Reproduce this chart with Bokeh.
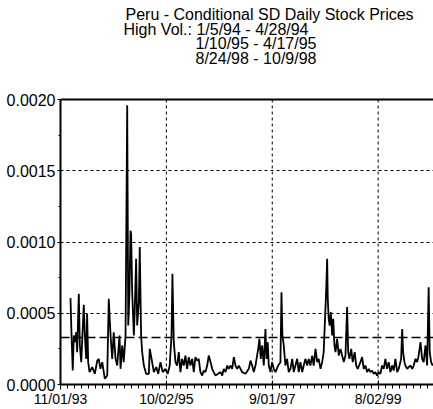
from bokeh.plotting import figure
from bokeh.models import Range1d, FixedTicker, NumeralTickFormatter, Span, Label
from bokeh.embed import file_html
from bokeh.resources import INLINE

# ---- data ----
title_line1 = "Peru - Conditional SD Daily Stock Prices"
title_line2 = "High Vol.: 1/5/94 - 4/28/94"
title_line3 = "1/10/95 - 4/17/95"
title_line4 = "8/24/98 - 10/9/98"

x_tick_days = [0, 700, 1400, 2100]          # days since 11/01/93
x_tick_labels = ["11/01/93", "10/02/95", "9/01/97", "8/02/99"]
y_ticks = [0.0, 0.0005, 0.0010, 0.0015, 0.0020]
y_minor_ticks = [0.00025, 0.00075, 0.00125, 0.00175]
threshold = 0.00033

# days since 11/01/93
day = [66, 73, 81, 88, 95, 104, 110, 121, 128, 137, 143, 154, 161, 170, 176, 183, 192, 210, 227, 243,
       253, 264, 276, 293, 309, 319, 331, 342, 352, 364,
       375, 390, 397, 408, 418, 430, 441, 448, 456, 463, 467, 474, 485, 491, 500, 507, 518, 524, 533, 540,
       551, 566, 584, 590, 602, 617, 633, 646, 661, 676, 694, 709, 722, 734, 740, 749, 760,
       771, 782, 793, 804, 815, 826, 837, 848, 859, 871, 881, 892, 904, 914, 925, 937, 947, 958, 970, 980,
       992, 1003, 1013, 1025, 1042, 1058, 1069, 1079, 1091, 1102, 1112, 1124, 1135, 1146, 1157, 1168,
       1179, 1201, 1223, 1245, 1256, 1267, 1278, 1289, 1307, 1315, 1324, 1333, 1344, 1355, 1362, 1370, 1377,
       1388, 1399, 1410, 1421, 1439, 1454, 1461, 1467, 1476, 1487, 1498, 1509, 1520, 1532, 1542, 1553, 1565,
       1575, 1586, 1598, 1608, 1619, 1631, 1641, 1652, 1664, 1674, 1686, 1697, 1707, 1719, 1730, 1740, 1747,
       1756, 1763, 1767, 1773, 1780, 1787, 1796, 1803, 1811, 1818, 1829, 1840, 1851, 1862, 1873, 1884, 1895,
       1902, 1910, 1922, 1932, 1945, 1955, 1965,
       1983, 1994, 2005, 2016, 2027, 2038, 2049, 2060, 2071, 2082, 2093, 2104, 2115, 2126, 2137, 2148, 2159,
       2170, 2181, 2193, 2203, 2214, 2226, 2236, 2252, 2259, 2265, 2274, 2280, 2292, 2302, 2314, 2325, 2335,
       2347, 2358, 2368, 2380, 2391, 2401, 2413, 2424, 2434, 2441, 2450, 2461]

# conditional SD, in units of 1e-4
sd_e4 = [6.06, 3.44, 0.98, 3.44, 2.97, 3.67, 2.27, 6.36, 2.74, 1.57, 2.97, 5.59, 3.44, 1.80, 4.96, 1.57,
         0.87, 1.22, 0.75, 1.68, 1.80, 1.10, 1.57, 0.40, 0.63, 6.01, 3.44, 1.80, 3.67, 1.80,
         1.33, 3.44, 1.10, 2.74, 1.57, 3.44, 19.6, 4.14, 6.48, 10.8, 10.5, 6.48, 3.44, 5.30, 8.82, 4.14,
         5.78, 9.64, 3.44, 2.27, 1.33, 0.75, 0.75, 2.50, 1.80, 0.87, 1.22, 0.75, 1.57, 0.87, 1.10, 0.75,
         1.33, 3.44, 7.77, 2.97, 1.57,
         1.33, 2.27, 0.87, 1.80, 1.33, 2.03, 1.10, 1.92, 1.33, 1.80, 0.87, 1.92, 1.68, 1.80, 0.87, 0.63,
         0.98, 0.87, 1.33, 2.03, 1.57, 1.10, 0.87, 0.63, 0.75, 0.87, 0.63, 1.10, 0.87, 1.33, 1.10, 1.33,
         1.10, 1.92, 1.33, 1.10,
         1.33, 0.87, 0.75, 1.10, 1.68, 1.33, 0.87, 1.33, 2.50, 3.20, 1.80, 2.74, 1.33, 3.90, 1.80, 2.97,
         1.33, 0.87, 1.57, 1.10, 0.87, 1.33, 1.57, 6.48, 3.44, 2.74, 1.33, 1.80, 0.87, 1.10, 1.80, 0.87,
         1.33, 1.80,
         0.87, 1.57, 0.87, 1.33, 1.80, 1.33, 1.80, 1.33, 2.03, 1.33, 2.50, 1.57, 1.80, 1.10, 1.57, 2.27,
         4.14, 6.48, 8.82, 6.01, 4.61, 4.14, 5.08, 3.44, 4.61, 2.74, 2.27, 3.20, 2.03, 2.50, 2.03, 1.57,
         2.03, 5.43, 2.27, 1.80, 2.50, 1.57, 2.27, 1.33, 1.10,
         1.57, 1.92, 1.10, 1.33, 0.87, 1.10, 0.87, 0.98, 0.75, 0.87, 0.63, 0.87, 0.75, 1.33, 1.10, 1.80,
         1.10, 1.57, 0.87, 1.33, 0.98, 1.80, 0.87, 1.10, 1.80, 3.90, 2.27, 1.57, 1.33, 1.10, 1.22, 1.33,
         1.10, 1.33, 1.80, 1.57, 2.03, 2.97, 1.80, 1.57, 2.74, 1.33, 6.83, 2.27, 1.57, 1.33]

sd = [v * 1e-4 for v in sd_e4]

FONT = "Liberation Sans"

# the frame covers the whole height; the value axis is bounded to 0..0.0020,
# leaving the space above it for the title block
y_top = y_ticks[-1] * 384 / 285

p = figure(width=433, height=409, output_backend="svg", toolbar_location=None,
           x_range=Range1d(0, 2466), y_range=Range1d(0, y_top),
           min_border_left=60, min_border_right=0, min_border_top=0, min_border_bottom=25)
p.outline_line_color = None
p.background_fill_color = "white"
p.border_fill_color = "white"

# grids
p.xgrid.visible = False
p.segment(x0=x_tick_days[1:], y0=[y_ticks[0]] * 3, x1=x_tick_days[1:], y1=[y_ticks[-1]] * 3,
          line_color="black", line_dash="3 3", line_width=1)
p.ygrid.ticker = FixedTicker(ticks=y_ticks[1:4])
p.ygrid.grid_line_color = "black"
p.ygrid.grid_line_dash = "3 3"
p.ygrid.grid_line_width = 1

# top border line and threshold
p.add_layout(Span(location=y_ticks[-1], dimension="width", line_color="black", line_width=2))
p.add_layout(Span(location=threshold, dimension="width", line_color="black",
                  line_width=1.5, line_dash="9 4"))

p.line(day, sd, line_color="black", line_width=1.8)

# x axis
xa = p.xaxis[0]
xa.ticker = FixedTicker(ticks=x_tick_days, minor_ticks=[i * 700 / 15 for i in range(0, 53)])
xa.major_label_overrides = dict(zip(x_tick_days, x_tick_labels))
xa.axis_line_width = 2
xa.axis_line_color = "black"
xa.major_tick_line_color = "black"
xa.minor_tick_line_color = "black"
xa.major_tick_in = 4
xa.major_tick_out = 5
xa.minor_tick_in = 0
xa.minor_tick_out = 4
xa.major_label_standoff = 1
xa.major_label_text_font = FONT
xa.major_label_text_font_size = "14px"
xa.major_label_text_color = "black"

# y axis
ya = p.yaxis[0]
ya.bounds = (y_ticks[0], y_ticks[-1])
ya.ticker = FixedTicker(ticks=y_ticks, minor_ticks=y_minor_ticks)
ya.formatter = NumeralTickFormatter(format="0.0000")
ya.axis_line_width = 2
ya.axis_line_color = "black"
ya.major_tick_line_color = "black"
ya.minor_tick_line_color = "black"
ya.major_tick_in = 0
ya.major_tick_out = 3
ya.minor_tick_in = 0
ya.minor_tick_out = 2
ya.major_label_standoff = 2
ya.major_label_text_font = FONT
ya.major_label_text_font_size = "16px"
ya.major_label_text_color = "black"

# title block (screen units relative to the plot frame)
for txt, x, y in [(title_line1, 65, 370), (title_line2, 63, 355),
                  (title_line3, 135, 341), (title_line4, 135, 326)]:
    p.add_layout(Label(x=x, y=y, x_units="screen", y_units="screen", text=txt,
                       text_font=FONT, text_font_size="16px", text_color="black",
                       text_baseline="alphabetic", text_align="left"))

open("out.html", "w").write(file_html(p, INLINE))
